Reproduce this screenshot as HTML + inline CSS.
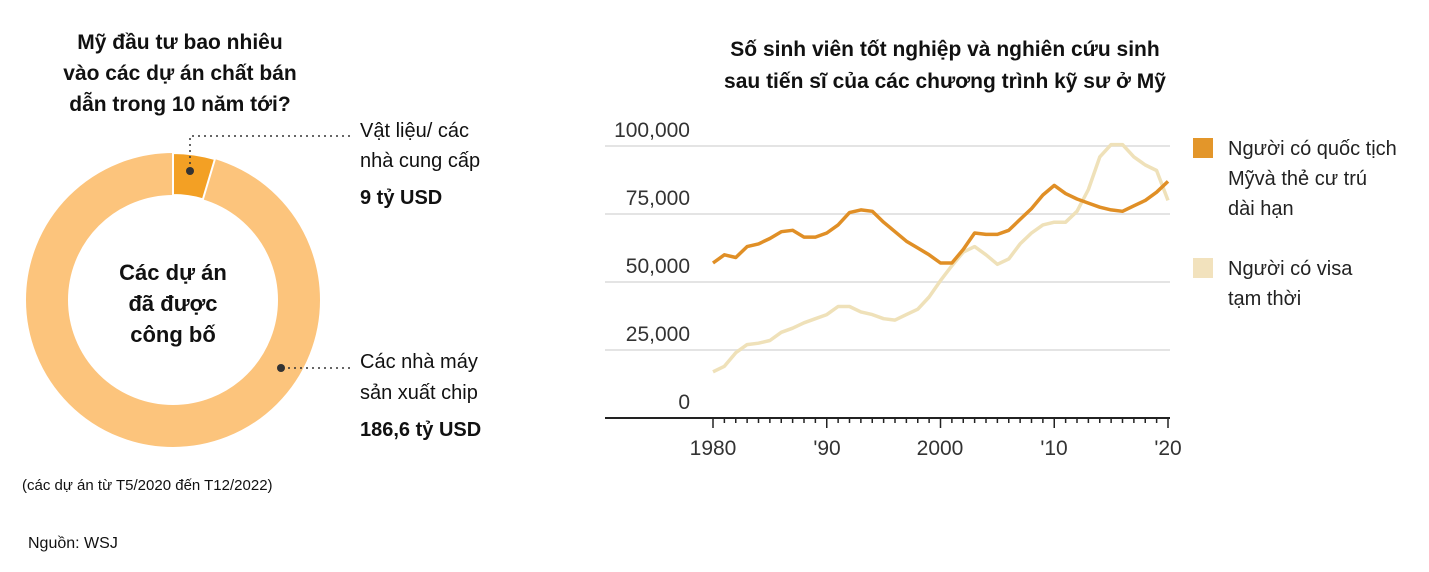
<!DOCTYPE html>
<html><head><meta charset="utf-8"><style>
body{margin:0;background:#fff;width:1429px;height:567px;overflow:hidden;font-family:"Liberation Sans","DejaVu Sans",sans-serif;}
</style></head><body>
<svg width="1429" height="567" xmlns="http://www.w3.org/2000/svg" font-family="Liberation Sans, DejaVu Sans, sans-serif">
<g font-weight="bold" font-size="21" fill="#111" text-anchor="middle">
<text x="180" y="49">Mỹ đầu tư bao nhiêu</text>
<text x="180" y="80">vào các dự án chất bán</text>
<text x="180" y="111">dẫn trong 10 năm tới?</text>
<text x="945" y="56">Số sinh viên tốt nghiệp và nghiên cứu sinh</text>
<text x="945" y="88">sau tiến sĩ của các chương trình kỹ sư ở Mỹ</text>
<text x="173" y="280" font-size="22">Các dự án</text>
<text x="173" y="311" font-size="22">đã được</text>
<text x="173" y="342" font-size="22">công bố</text>
</g>
<!-- donut -->
<circle cx="173" cy="300" r="126" fill="none" stroke="#fcc47c" stroke-width="42"/>
<path d="M173,153 A147,147 0 0,1 214.9,159.1 L202.9,199.3 A105,105 0 0,0 173,195 Z" fill="#f3a024" stroke="#fff" stroke-width="2"/>
<line x1="173" y1="153" x2="173" y2="195" stroke="#fff" stroke-width="2"/>
<g stroke="#333" stroke-width="1.5" stroke-dasharray="2,4" fill="none">
<polyline points="190,170 190,136 350,136"/>
<line x1="282" y1="368" x2="352" y2="368"/>
</g>
<circle cx="190" cy="171" r="4" fill="#333"/>
<circle cx="281" cy="368" r="4" fill="#333"/>
<g font-size="20" fill="#111">
<text x="360" y="137">Vật liệu/ các</text>
<text x="360" y="167">nhà cung cấp</text>
<text x="360" y="204" font-weight="bold">9 tỷ USD</text>
<text x="360" y="368">Các nhà máy</text>
<text x="360" y="399">sản xuất chip</text>
<text x="360" y="436" font-weight="bold">186,6 tỷ USD</text>
<text x="22" y="490" font-size="15">(các dự án từ T5/2020 đến T12/2022)</text>
<text x="28" y="548" font-size="16">Nguồn: WSJ</text>
</g>
<!-- line chart -->
<g stroke="#e4e4e4" stroke-width="2">
<line x1="605" y1="146" x2="1170" y2="146"/>
<line x1="605" y1="214" x2="1170" y2="214"/>
<line x1="605" y1="282" x2="1170" y2="282"/>
<line x1="605" y1="350" x2="1170" y2="350"/>
</g>
<line x1="605" y1="418" x2="1170" y2="418" stroke="#222" stroke-width="2"/>
<g stroke="#222" stroke-width="1.5" id="ticks"></g>
<g font-size="21" fill="#333" text-anchor="end">
<text x="690" y="137">100,000</text>
<text x="690" y="205">75,000</text>
<text x="690" y="273">50,000</text>
<text x="690" y="341">25,000</text>
<text x="690" y="409">0</text>
</g>
<g font-size="21" fill="#333" text-anchor="middle">
<text x="713" y="455">1980</text>
<text x="827" y="455">'90</text>
<text x="940" y="455">2000</text>
<text x="1054" y="455">'10</text>
<text x="1168" y="455">'20</text>
</g>
<polyline id="l2" fill="none" stroke="#efe1b9" stroke-width="3.5" stroke-linejoin="round"/>
<polyline id="l1" fill="none" stroke="#e08f26" stroke-width="3.5" stroke-linejoin="round"/>
<rect x="1193" y="138" width="20" height="20" fill="#e3962a"/>
<rect x="1193" y="258" width="20" height="20" fill="#f2e2bd"/>
<g font-size="20" fill="#222">
<text x="1228" y="155">Người có quốc tịch</text>
<text x="1228" y="185">Mỹvà thẻ cư trú</text>
<text x="1228" y="215">dài hạn</text>
<text x="1228" y="275">Người có visa</text>
<text x="1228" y="305">tạm thời</text>
</g>
</svg>
<script>
var a=[57,60,59,63,64,66,68.5,69,66.5,66.5,68,71,75.5,76.5,76,72,68.5,65,62.5,60,57,57,62,68,67.5,67.5,69,73,77,82,85.5,82.5,80.5,79,77.5,76.5,76,78,80,83,87];
var b=[17,19,24,27,27.5,28.5,31.5,33,35,36.5,38,41,41,39,38,36.5,36,38,40,44.5,50.5,56,61,63,60,56.5,58.5,64,68,71,72,72,76,84,96,100.5,100.5,96,93,91,80];
function p(d){return d.map(function(v,i){return (713+i*11.375).toFixed(1)+","+(418-v*2.72).toFixed(1)}).join(" ")}
document.getElementById("l1").setAttribute("points",p(a));
document.getElementById("l2").setAttribute("points",p(b));
var t=document.getElementById("ticks"),s="";
for(var i=0;i<=40;i++){var x=713+i*11.375;var h=(i%10==0)?10:5;s+='<line x1="'+x+'" y1="418" x2="'+x+'" y2="'+(418+h)+'"/>';}
t.innerHTML=s;
</script>
</body></html>
